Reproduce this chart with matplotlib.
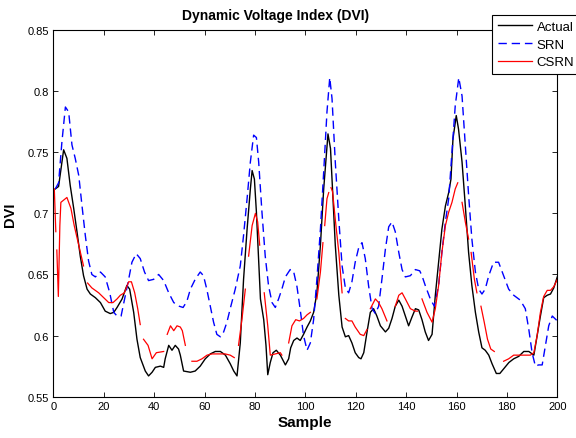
import numpy as np
import matplotlib
matplotlib.use("Agg")
import matplotlib.pyplot as plt
from matplotlib.ticker import FormatStrFormatter

nan = np.nan

# Actual
actual_x = [0.8, 2.1, 4.1, 5.4, 6.7, 8.1, 9.4, 10.7, 12, 13.4, 14.7, 16.7, 18.7,
            20.6, 22.6, 24, 25.3, 27.3, 29.2, 30.3, 31.9, 33.2, 34.5, 36.5, 37.8,
            39.2, 40.5, 42.5, 43.8, 44.4, 45.8, 47.1, 48.4, 49.7, 50.4, 51.7, 54.4,
            56.3, 58.3, 60.3, 62.3, 64.3, 66.3, 68.3, 70.2, 71.6, 72.9, 74.2, 75.5,
            76.9, 78.2, 78.9, 79.8, 80.6, 81.5, 82.2, 83.5, 84.4, 85.1, 86.1, 87.2,
            88.5, 90.1, 92.1, 93.4, 94.2, 95.4, 96.7, 98, 99.3, 100.7, 102, 103.3,
            104.6, 106, 107.3, 108.6, 109, 110, 110.6, 111.9, 113.3, 114.6, 115.9,
            117.2, 118.5, 119.8, 121.2, 122.1, 123.2, 124.5, 125.8, 127.1, 128.4,
            129.8, 131.8, 133.1, 134.4, 135.7, 137.1, 138.4, 139.7, 141, 142.3,
            143.7, 145, 146.3, 147.6, 148.9, 150.3, 151.6, 152.9, 154.2, 155.6,
            156.9, 157.8, 158.6, 159.9, 160.8, 162.2, 163.5, 164.8, 166.1, 167.5,
            168.8, 170.1, 171.4, 172.8, 174.1, 175.8, 177.2, 178.8, 180.8, 182.7,
            184.7, 186.7, 188.7, 190.7, 192, 193.3, 194.6, 196, 197.3, 198.6, 200]
actual_y = [0.720, 0.722, 0.752, 0.745, 0.723, 0.704, 0.685, 0.665, 0.649, 0.638,
            0.634, 0.631, 0.627, 0.620, 0.618, 0.619, 0.623, 0.630, 0.641, 0.638,
            0.619, 0.597, 0.582, 0.571, 0.567, 0.570, 0.574, 0.575, 0.574, 0.581,
            0.592, 0.588, 0.592, 0.589, 0.584, 0.571, 0.570, 0.571, 0.575, 0.581,
            0.585, 0.587, 0.587, 0.584, 0.577, 0.571, 0.567, 0.594, 0.646, 0.687,
            0.720, 0.735, 0.728, 0.701, 0.660, 0.630, 0.613, 0.592, 0.568, 0.578,
            0.586, 0.588, 0.584, 0.576, 0.581, 0.590, 0.596, 0.598, 0.596, 0.601,
            0.607, 0.612, 0.619, 0.635, 0.674, 0.720, 0.755, 0.765, 0.753, 0.728,
            0.674, 0.633, 0.607, 0.599, 0.600, 0.594, 0.586, 0.582, 0.581, 0.586,
            0.603, 0.619, 0.622, 0.616, 0.608, 0.603, 0.606, 0.614, 0.624, 0.629,
            0.624, 0.616, 0.608, 0.615, 0.622, 0.621, 0.613, 0.603, 0.596, 0.601,
            0.633, 0.660, 0.687, 0.706, 0.717, 0.728, 0.761, 0.780, 0.769, 0.742,
            0.706, 0.668, 0.641, 0.619, 0.603, 0.590, 0.588, 0.584, 0.577, 0.569,
            0.569, 0.573, 0.578, 0.581, 0.583, 0.587, 0.587, 0.584, 0.600, 0.616,
            0.631, 0.633, 0.634, 0.639, 0.648]

# SRN
srn_x = [0.8, 2.1, 3.4, 4.8, 6.1, 7.4, 8.7, 10.1, 11.4, 12.7, 14, 15.3, 16.7, 18.7,
         20.6, 22.4, 24, 25.3, 26.9, 28.6, 29.9, 31.2, 32.9, 34.5, 36.2, 37.8, 39.8,
         41.8, 43.8, 45.8, 47.8, 50, 51.5, 53, 54.4, 56.3, 58.3, 59.6, 60.9, 62.3,
         63.6, 64.9, 66.3, 67.6, 68.9, 70.2, 72.2, 74.2, 75.5, 76.9, 78.2, 79.5,
         80.6, 81.5, 82.8, 84.1, 85.4, 86.8, 88.1, 89.4, 90.7, 92.1, 94, 95.3, 96.7,
         98, 99.3, 100.7, 102, 103.3, 104.6, 106, 107.3, 108.6, 109.7, 110.6, 111.9,
         113.3, 114.6, 115.9, 117.2, 118.5, 119.8, 121.2, 122.5, 123.8, 125.1, 126.5,
         127.8, 129.1, 130.4, 131.8, 133.1, 134.4, 135.7, 137.1, 138.4, 139.7, 141.7,
         143.7, 145.4, 146.3, 147.6, 149.6, 151.2, 152.9, 154.2, 155.6, 156.9, 158.2,
         159.5, 160.9, 162.2, 163.5, 164.8, 166.1, 167.5, 168.8, 170.1, 171.4, 172.8,
         174.7, 176.7, 178.7, 180.7, 182.7, 185.3, 187.3, 188.7, 190, 191.3, 192.6,
         194, 195.3, 196.6, 198, 200]
srn_y = [0.720, 0.725, 0.758, 0.787, 0.783, 0.756, 0.745, 0.731, 0.706, 0.682, 0.661,
         0.650, 0.648, 0.652, 0.648, 0.635, 0.619, 0.616, 0.616, 0.633, 0.646, 0.660,
         0.667, 0.663, 0.652, 0.645, 0.646, 0.650, 0.645, 0.635, 0.627, 0.624, 0.623,
         0.628, 0.638, 0.646, 0.652, 0.649, 0.638, 0.624, 0.611, 0.601, 0.599, 0.603,
         0.611, 0.622, 0.638, 0.657, 0.682, 0.712, 0.742, 0.764, 0.762, 0.742, 0.701,
         0.665, 0.641, 0.627, 0.623, 0.630, 0.638, 0.648, 0.654, 0.653, 0.640, 0.621,
         0.600, 0.588, 0.594, 0.613, 0.646, 0.687, 0.734, 0.783, 0.811, 0.794, 0.742,
         0.695, 0.657, 0.639, 0.635, 0.644, 0.660, 0.672, 0.676, 0.663, 0.641, 0.622,
         0.618, 0.624, 0.646, 0.671, 0.689, 0.693, 0.685, 0.668, 0.654, 0.648, 0.649,
         0.654, 0.653, 0.649, 0.641, 0.630, 0.624, 0.641, 0.668, 0.693, 0.712, 0.750,
         0.788, 0.811, 0.796, 0.755, 0.715, 0.679, 0.652, 0.638, 0.634, 0.638, 0.649,
         0.660, 0.660, 0.649, 0.638, 0.633, 0.629, 0.622, 0.605, 0.586, 0.575, 0.576,
         0.576, 0.592, 0.608, 0.616, 0.612]

# CSRN (nan marks the breaks in the line)
csrn_x = [0.4, 1.0, nan, 1.4, 2.0, 2.6, 3.0, 5.4, 7, 8.3, 10.1, 12, nan,
          13.6, 15.3, 18, 20, 22, 23.7, 25.3, 26.6, 28.2, 29.9, 31, 32.3, 33.5, 34.5, nan,
          35.8, 37.6, 39.2, 40.9, 43.8, nan,
          45.2, 46.5, 47.8, 49.1, 50.4, 51.2, 52.4, nan,
          55, 57, 59, 61, 63, 65.6, 68.2, 70.2, 71.8, nan,
          73.5, 74.9, 76.2, nan,
          77.5, 78.9, 80.2, 81.1, 81.9, nan,
          83.7, 85.1, 86.1, 88.1, 90.1, 90.7, nan,
          93.4, 94.7, 96.2, 97.7, 99.3, 100.7, 102, nan,
          104.6, 106, 107, nan,
          107.7, 108.6, 109.3, nan,
          110.2, 110.8, 111.9, 113.3, 114.6, nan,
          115.9, 117.2, 118.5, 119.8, 121.8, 123.2, 124.5, nan,
          125.8, 127.8, 129.1, 130.4, 132.4, nan,
          135.7, 137.1, 138.4, 139.7, 141.7, 143.7, 144.5, nan,
          146.3, 148.3, 150.3, 151.6, 152.9, 154.2, 155.6, 156.9, 158.2, 159.5, 160.5, nan,
          162.2, 163.5, 164.8, nan,
          165.8, 167.1, 168.1, nan,
          169.7, 171, 172.3, 173.6, 175, nan,
          178.7, 180.7, 182.7, 185.3, 187.3, 189.3, 190.7, 192, 193.3, 194.6, 196,
          197.3, 198.6, 200]
csrn_y = [0.720, 0.685, nan, 0.670, 0.632, 0.690, 0.709, 0.713, 0.704, 0.690, 0.674, 0.657, nan,
          0.643, 0.639, 0.635, 0.631, 0.627, 0.627, 0.630, 0.633, 0.635, 0.644, 0.644, 0.635,
          0.622, 0.609, nan,
          0.597, 0.592, 0.581, 0.586, 0.587, nan,
          0.601, 0.608, 0.604, 0.608, 0.607, 0.604, 0.592, nan,
          0.579, 0.579, 0.581, 0.584, 0.585, 0.585, 0.585, 0.584, 0.582, nan,
          0.592, 0.614, 0.638, nan,
          0.665, 0.690, 0.700, 0.693, 0.674, nan,
          0.635, 0.608, 0.584, 0.585, 0.586, 0.584, nan,
          0.594, 0.608, 0.613, 0.612, 0.614, 0.617, 0.619, nan,
          0.630, 0.652, 0.676, nan,
          0.690, 0.712, 0.717, nan,
          0.721, 0.718, 0.695, 0.668, 0.635, nan,
          0.614, 0.612, 0.612, 0.607, 0.601, 0.600, 0.605, nan,
          0.622, 0.630, 0.627, 0.622, 0.612, nan,
          0.624, 0.633, 0.635, 0.630, 0.622, 0.620, 0.620, nan,
          0.630, 0.619, 0.611, 0.622, 0.641, 0.668, 0.690, 0.701, 0.709, 0.720, 0.725, nan,
          0.709, 0.693, 0.679, nan,
          0.668, 0.646, 0.635, nan,
          0.624, 0.611, 0.597, 0.589, 0.587, nan,
          0.579, 0.581, 0.584, 0.584, 0.584, 0.584, 0.586, 0.600, 0.619, 0.632, 0.637,
          0.637, 0.640, 0.646]

x_ticks = [0, 20, 40, 60, 80, 100, 120, 140, 160, 180, 200]
y_ticks = [0.55, 0.6, 0.65, 0.7, 0.75, 0.8, 0.85]

plt.rcParams["font.family"] = ["Liberation Sans", "DejaVu Sans"]
plt.rcParams["lines.scale_dashes"] = False

fig = plt.figure(figsize=(5.76, 4.39), dpi=100)
ax = fig.add_axes([53.3 / 576, 1 - 397.7 / 439, 504 / 576, 366.7 / 439])

ax.plot(actual_x, actual_y, color="black", lw=1.0, label="Actual")
ax.plot(srn_x, srn_y, color="#0000ff", lw=1.0, ls=(0, (6, 3.5)), label="SRN")
ax.plot(csrn_x, csrn_y, color="#ff0000", lw=0.9, label="CSRN")

ax.set_xlim(0, 200)
ax.set_ylim(0.55, 0.85)
ax.set_xticks(x_ticks)
ax.set_yticks(y_ticks)
ax.yaxis.set_major_formatter(FormatStrFormatter("%g"))
ax.tick_params(direction="in", top=True, right=True, length=3.5, width=0.6,
               labelsize=8, pad=3)
for sp in ax.spines.values():
    sp.set_linewidth(0.8)

ax.set_xlabel("Sample", fontsize=11, fontweight="bold", labelpad=3)
ax.set_ylabel("DVI", fontsize=10.5, fontweight="bold", labelpad=8)
fig.text(276 / 576, 1 - 16 / 439, "Dynamic Voltage Index (DVI)", ha="center",
         va="center", fontsize=10, fontweight="bold")

leg = fig.legend(loc="upper left", bbox_to_anchor=(492 / 576, 1 - 15.7 / 439),
                 bbox_transform=fig.transFigure, fontsize=9.5, fancybox=False,
                 framealpha=1, edgecolor="black", handlelength=2.6,
                 handletextpad=0.35, borderpad=0.45, labelspacing=0.42,
                 borderaxespad=0)
leg.get_frame().set_linewidth(0.8)

fig.savefig("out.png", dpi=100)
